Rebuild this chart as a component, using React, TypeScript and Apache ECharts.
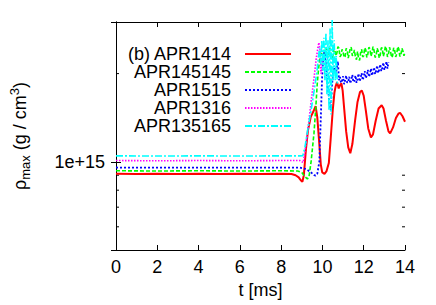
import React, { useEffect, useRef } from "react";
import * as echarts from "echarts";

const seriesNames = ["APR1414", "APR145145", "APR1515", "APR1316", "APR135165"];
const panelLabel = "(b)";
const seriesColors = ["#ff0000", "#00ff00", "#0000ff", "#ff00ff", "#00ffff"];
const yMajorLabel = "1e+15";
const yMinorTicks = [0.6, 0.7, 0.8, 0.9, 2];
const xMin = 0;
const xMax = 14;
const xStep = 2;
const yMin = 0.5;
const yMax = 3;

// values in units of 1e15 g/cm^3
const redData = [
  [0, 0.91], [1, 0.908], [2, 0.91], [3, 0.909], [4, 0.91], [5, 0.908], [6, 0.91], [7, 0.909],
  [8, 0.91], [8.5, 0.908], [8.7, 0.9], [8.85, 0.885], [8.95, 0.865], [9.03, 0.855], [9.1, 0.9],
  [9.2, 1.1], [9.3, 1.28], [9.43, 1.42], [9.59, 1.5], [9.67, 1.55], [9.75, 1.42], [9.83, 1.2],
  [9.92, 0.98], [9.99, 0.92], [10.1, 0.91], [10.2, 0.93], [10.31, 0.99], [10.4, 1.2], [10.5, 1.5],
  [10.58, 1.72], [10.64, 1.81], [10.71, 1.87], [10.79, 1.78], [10.86, 1.83], [10.92, 1.85],
  [10.98, 1.75], [11.06, 1.5], [11.15, 1.27], [11.25, 1.12], [11.35, 1.07], [11.45, 1.15],
  [11.58, 1.38], [11.7, 1.6], [11.82, 1.73], [11.91, 1.75], [12.0, 1.68], [12.1, 1.5],
  [12.22, 1.3], [12.35, 1.21], [12.45, 1.24], [12.58, 1.38], [12.72, 1.52], [12.87, 1.56],
  [12.96, 1.52], [13.08, 1.38], [13.2, 1.27], [13.28, 1.25], [13.42, 1.31], [13.56, 1.41],
  [13.68, 1.46], [13.76, 1.47], [13.88, 1.43], [14, 1.37],
];

const greenHead = [
  [0, 0.932], [2, 0.93], [4, 0.932], [6, 0.93], [8, 0.932], [8.8, 0.93], [9.0, 0.92],
  [9.15, 0.89], [9.27, 0.874], [9.35, 0.89], [9.45, 1.0], [9.59, 1.25], [9.67, 1.5],
  [9.75, 1.85], [9.82, 2.1], [9.88, 2.27], [9.95, 2.35],
];
const greenTailStart = 10.0;
const greenTailStep = 0.05;
const greenTail = [
  2.36, 2.27, 2.3, 2.44, 2.42, 2.29, 2.33, 2.45, 2.39, 2.26, 2.28, 2.43, 2.41, 2.3, 2.35, 2.47,
  2.44, 2.28, 2.31, 2.42, 2.37, 2.27, 2.29, 2.44, 2.4, 2.26, 2.34, 2.46, 2.45, 2.3, 2.32, 2.41,
  2.27, 2.23, 2.38, 2.25, 2.22, 2.36, 2.42, 2.28, 2.3, 2.45, 2.41, 2.27, 2.33, 2.46, 2.43, 2.29,
  2.35, 2.47, 2.4, 2.27, 2.3, 2.44, 2.39, 2.26, 2.31, 2.45, 2.44, 2.29, 2.36, 2.48, 2.42, 2.28,
  2.33, 2.46, 2.38, 2.27, 2.3, 2.45, 2.4, 2.28, 2.34, 2.47, 2.43, 2.29, 2.31, 2.44, 2.39, 2.3,
  2.37,
];

const blueHead = [
  [0, 0.956], [2, 0.955], [4, 0.956], [6, 0.955], [8, 0.956], [8.9, 0.955], [9.2, 0.945],
  [9.45, 0.92], [9.6, 0.9], [9.67, 0.897], [9.75, 0.91], [9.85, 1.0], [9.92, 1.4], [9.98, 1.9],
  [10.04, 2.3], [10.1, 2.4], [10.18, 2.1], [10.26, 1.8], [10.34, 1.6], [10.4, 1.5], [10.47, 1.85],
  [10.55, 2.1], [10.65, 2.0], [10.75, 2.2], [10.8, 1.9],
];
const blueTailStart = 10.85;
const blueTailStep = 0.05;
const blueTail = [
  1.95, 1.86, 1.89, 1.96, 1.84, 1.9, 1.97, 1.86, 1.88, 1.95, 1.85, 1.91, 1.98, 1.87, 1.89, 1.97,
  1.86, 1.92, 2.0, 1.88, 1.93, 2.01, 1.9, 1.95, 2.04, 1.93, 1.97, 2.06, 1.95, 1.99, 2.08, 1.97,
  2.02, 2.1, 1.99, 2.04, 2.13, 2.01, 2.06, 2.15, 2.04, 2.09, 2.18, 2.06, 2.11, 2.2, 2.08, 2.19,
];

const magentaData = [
  [0, 1.01], [2, 1.008], [4, 1.01], [6, 1.008], [8, 1.01], [8.9, 1.01], [9.0, 1.0], [9.07, 0.995],
  [9.15, 1.08], [9.3, 1.3], [9.45, 1.6], [9.6, 1.95], [9.7, 2.25], [9.78, 2.45], [9.83, 2.55],
  [9.88, 2.4], [9.93, 2.0], [9.97, 2.2], [10.02, 2.35],
];

const cyanData = [
  [0, 1.048], [2, 1.046], [4, 1.048], [6, 1.046], [8, 1.048], [8.9, 1.048], [9.05, 1.05],
  [9.15, 1.12], [9.3, 1.3], [9.45, 1.5], [9.6, 1.75], [9.72, 2.0], [9.8, 2.25], [9.86, 2.45],
  [9.92, 2.15], [9.97, 2.6], [10.02, 2.05], [10.07, 2.65], [10.12, 1.9], [10.17, 2.75],
  [10.22, 1.7], [10.27, 2.6], [10.32, 1.5], [10.37, 2.85], [10.42, 1.45], [10.47, 3.05],
  [10.52, 1.9], [10.57, 2.6], [10.62, 1.9], [10.67, 2.3], [10.72, 1.85],
];

const lineWidths = [2, 1.6, 1.8, 1.6, 1.6];
const lineTypes: any[] = ["solid", [4, 2], [2, 2], [1.5, 1.5], [7, 2, 2, 2]];

function withTail(head: number[][], start: number, step: number, tail: number[]) {
  return head.concat(tail.map((v, i) => [start + i * step, v]));
}

export default function App() {
  const ref = useRef<HTMLDivElement>(null);
  useEffect(() => {
    document.body.style.margin = "0";
    if (!ref.current) return;
    const chart = echarts.init(ref.current, null, { renderer: "svg" });
    const datas = [
      redData,
      withTail(greenHead, greenTailStart, greenTailStep, greenTail),
      withTail(blueHead, blueTailStart, blueTailStep, blueTail),
      magentaData,
      cyanData,
    ];
    const font = "Liberation Sans";
    const axisCommon = {
      axisLine: { lineStyle: { color: "#000", width: 1 } },
      axisTick: { inside: true, length: 5, lineStyle: { color: "#000" } },
      splitLine: { show: false },
      minorTick: { show: false },
    };
    chart.setOption({
      animation: false,
      backgroundColor: "#fff",
      textStyle: { fontFamily: font },
      grid: { left: 114, right: 31, top: 22, bottom: 55 },
      legend: {
        orient: "vertical",
        align: "right",
        right: 144,
        top: 45,
        padding: 0,
        itemGap: 0,
        itemWidth: 46,
        itemHeight: 14,
        itemStyle: { opacity: 0 },
        data: seriesNames,
        formatter: (n: string) => (n === seriesNames[0] ? panelLabel + " " + n : n),
        textStyle: { fontSize: 18, color: "#000", fontFamily: font, padding: [0, 9, 0, 0], lineHeight: 17.6 },
      },
      xAxis: [
        {
          type: "value", min: xMin, max: xMax, interval: xStep, position: "bottom", ...axisCommon,
          axisLabel: { fontSize: 18, color: "#000", margin: 8, fontFamily: font },
          name: "t [ms]", nameLocation: "middle", nameGap: 28,
          nameTextStyle: { fontSize: 18, color: "#000", fontFamily: font },
        },
        {
          type: "value", min: xMin, max: xMax, interval: xStep, position: "top", ...axisCommon,
          axisLabel: { show: false },
        },
      ],
      yAxis: [
        {
          type: "log", logBase: 10, min: yMin, max: yMax, position: "left", ...axisCommon,
          axisLabel: {
            fontSize: 18, color: "#000", margin: 11, fontFamily: font,
            formatter: (v: number) => (Math.abs(v - 1) < 1e-6 ? yMajorLabel : ""),
          },
          name: "ρ{sub|max} (g / cm{sup|3})",
          nameLocation: "middle",
          nameGap: 84,
          nameTextStyle: {
            fontSize: 18, color: "#000", fontFamily: font,
            rich: {
              sub: { fontSize: 13, fontFamily: font, color: "#000", verticalAlign: "bottom", lineHeight: 24 },
              sup: { fontSize: 13, fontFamily: font, color: "#000", verticalAlign: "top", lineHeight: 24 },
            },
          },
        },
        {
          type: "log", logBase: 10, min: yMin, max: yMax, position: "right", ...axisCommon,
          axisLabel: { show: false },
        },
      ],
      series: [
        ...seriesNames.map((name, i) => ({
          type: "line",
          name,
          data: datas[i],
          xAxisIndex: 0,
          yAxisIndex: 0,
          symbol: "none",
          showSymbol: false,
          clip: i !== 4,
          lineStyle: { color: seriesColors[i], width: lineWidths[i], type: lineTypes[i] },
          itemStyle: { color: seriesColors[i] },
          z: 2 + i,
        })),
        {
          type: "custom",
          name: "minorTicks",
          xAxisIndex: 0,
          yAxisIndex: 0,
          silent: true,
          data: yMinorTicks.map((v) => [xMin, v]),
          renderItem: (_p: any, api: any) => {
            const v = api.value(1);
            const a = api.coord([xMin, v]);
            const b = api.coord([xMax, v]);
            return {
              type: "group",
              children: [
                { type: "line", shape: { x1: a[0], y1: a[1], x2: a[0] + 3, y2: a[1] }, style: { stroke: "#000", lineWidth: 1 } },
                { type: "line", shape: { x1: b[0] - 3, y1: b[1], x2: b[0], y2: b[1] }, style: { stroke: "#000", lineWidth: 1 } },
              ],
            };
          },
        },
      ],
    });
    return () => chart.dispose();
  }, []);
  return <div ref={ref} style={{ width: 436, height: 305 }} />;
}
